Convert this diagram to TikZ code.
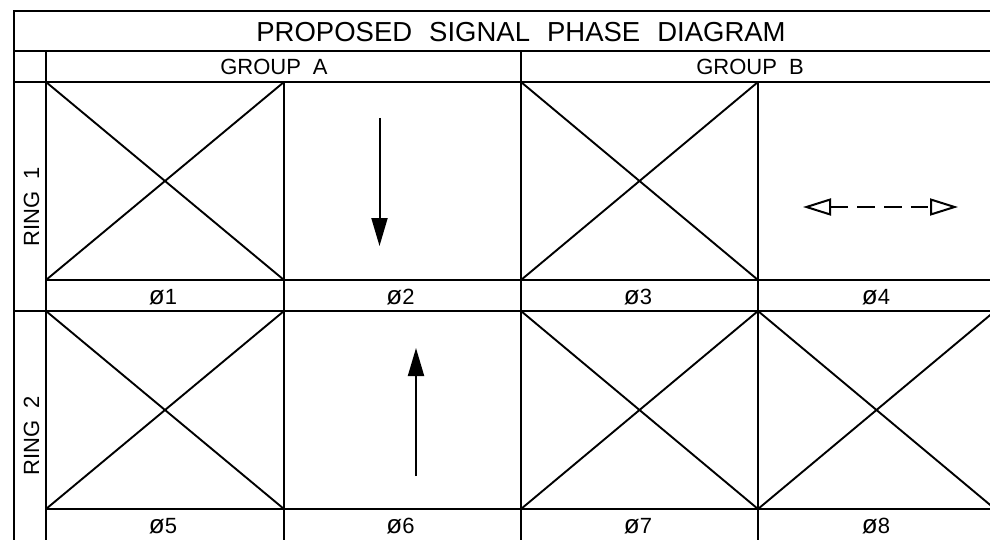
\documentclass[tikz,border=0pt]{standalone}
\usepackage{fontspec}
\setmainfont{Liberation Sans}
\usetikzlibrary{arrows.meta}
\newcommand{\titlefont}{\fontsize{27.5}{32}\selectfont\spaceskip=17pt\relax}
\newcommand{\groupfont}{\fontsize{22}{26}\selectfont\spaceskip=12pt\relax}
\newcommand{\cellfont}{\fontsize{22}{26}\selectfont}
\newcommand{\phaselbl}[1]{{\fontsize{26}{26}\selectfont ø}#1}
\begin{document}
\begin{tikzpicture}[x=1pt,y=-1pt,
  gridline/.style={line width=2.1pt},
  crossline/.style={line width=1.9pt},
  titletext/.style={anchor=base,inner sep=0pt,font=\titlefont},
  grouptext/.style={anchor=base,inner sep=0pt,font=\groupfont},
  phasetext/.style={anchor=base,inner sep=0pt,font=\cellfont},
  ringtext/.style={anchor=base,inner sep=0pt,rotate=90,font=\groupfont},
  movearrow/.style={line width=2pt,-{Triangle[length=28pt,width=16pt]}},
  pedarrow/.style={line width=2pt,dash pattern=on 17.5pt off 9.3pt,
    {Triangle[open,length=28pt,width=17pt]}-{Triangle[open,length=28pt,width=17pt]}}]
\useasboundingbox (0,0) rectangle (990,540);
\clip (0,0) rectangle (990,540);
% frame and grid
\draw[gridline] (995,11) -- (14,11) -- (14,545);
\draw[gridline] (14,51) -- (995,51);
\draw[gridline] (14,82) -- (995,82);
\draw[gridline] (46,51) -- (46,545);
\draw[gridline] (521,51) -- (521,545);
\draw[gridline] (284,82) -- (284,545);
\draw[gridline] (758,82) -- (758,545);
\draw[gridline] (46,280) -- (995,280);
\draw[gridline] (14,311) -- (995,311);
\draw[gridline] (46,509) -- (995,509);
% crossed-out cells
\foreach \xa/\xb/\ya/\yb in {46/284/82/280, 521/758/82/280, 46/284/311/509, 521/758/311/509, 758/995/311/509}{
  \draw[crossline] (\xa,\ya) -- (\xb,\yb);
  \draw[crossline] (\xa,\yb) -- (\xb,\ya);
}
% texts
\node[titletext] (title) at (521,41.5) {PROPOSED SIGNAL PHASE DIAGRAM};
\node[grouptext] (groupA) at (274,75) {GROUP A};
\node[grouptext] (groupB) at (750,75) {GROUP B};
\node[ringtext] (ring1) at (39,207) {RING 1};
\node[ringtext] (ring2) at (39,436) {RING 2};
\node[phasetext] (p1) at (163,304) {\phaselbl{1}};
\node[phasetext] (p2) at (400.5,304) {\phaselbl{2}};
\node[phasetext] (p3) at (638,304) {\phaselbl{3}};
\node[phasetext] (p4) at (876,304) {\phaselbl{4}};
\node[phasetext] (p5) at (163,533) {\phaselbl{5}};
\node[phasetext] (p6) at (400.5,533) {\phaselbl{6}};
\node[phasetext] (p7) at (638,533) {\phaselbl{7}};
\node[phasetext] (p8) at (876,533) {\phaselbl{8}};
% movement arrows
\coordinate (a2s) at (379.5,118);
\coordinate (a2e) at (379.5,246);
\coordinate (a6s) at (416,476);
\coordinate (a6e) at (416,348);
\coordinate (a4s) at (803,207);
\coordinate (a4e) at (958,207);
\draw[movearrow] (a2s) -- (a2e);
\draw[movearrow] (a6s) -- (a6e);
\draw[pedarrow] (a4s) -- (a4e);
\end{tikzpicture}
\end{document}
